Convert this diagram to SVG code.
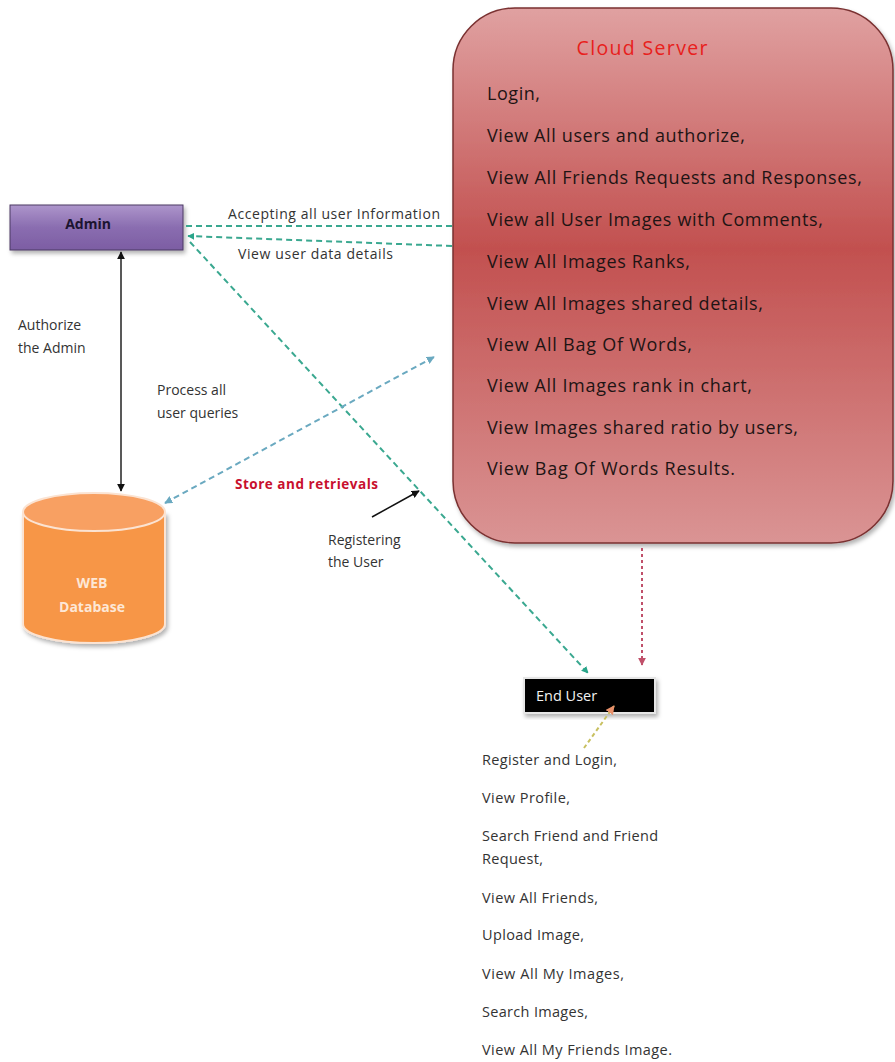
<svg xmlns="http://www.w3.org/2000/svg" width="895" height="1062" viewBox="0 0 895 1062">
<defs>
  <linearGradient id="gCloud" x1="0" y1="0" x2="0" y2="1">
    <stop offset="0" stop-color="#e0a1a1"/>
    <stop offset="0.45" stop-color="#c2504f"/>
    <stop offset="1" stop-color="#da9494"/>
  </linearGradient>
  <linearGradient id="gAdmin" x1="0" y1="0" x2="0" y2="1">
    <stop offset="0" stop-color="#ad95cb"/>
    <stop offset="0.5" stop-color="#8a6db0"/>
    <stop offset="1" stop-color="#7c5da3"/>
  </linearGradient>
  <marker id="aGreen" viewBox="0 0 10 10" refX="9" refY="5" markerWidth="7" markerHeight="7" orient="auto-start-reverse" markerUnits="userSpaceOnUse">
    <path d="M0,0 L10,5 L0,10 z" fill="#2aa58a"/>
  </marker>
  <marker id="aBlue" viewBox="0 0 10 10" refX="9" refY="5" markerWidth="8" markerHeight="8" orient="auto-start-reverse" markerUnits="userSpaceOnUse">
    <path d="M0,0 L10,5 L0,10 z" fill="#6aa9c0"/>
  </marker>
  <marker id="aBlack" viewBox="0 0 10 10" refX="9" refY="5" markerWidth="8" markerHeight="8" orient="auto-start-reverse" markerUnits="userSpaceOnUse">
    <path d="M0,0 L10,5 L0,10 z" fill="#111"/>
  </marker>
  <marker id="aRed" viewBox="0 0 10 10" refX="9" refY="5" markerWidth="8" markerHeight="8" orient="auto" markerUnits="userSpaceOnUse">
    <path d="M0,0 L10,5 L0,10 z" fill="#c0506a"/>
  </marker>
  <marker id="aOrange" viewBox="0 0 10 10" refX="9" refY="5" markerWidth="9" markerHeight="9" orient="auto" markerUnits="userSpaceOnUse">
    <path d="M0,0 L10,5 L0,10 z" fill="#e8906a"/>
  </marker>
  <filter id="sh" x="-10%" y="-10%" width="130%" height="130%">
    <feDropShadow dx="2" dy="3" stdDeviation="2" flood-color="#000" flood-opacity="0.3"/>
  </filter>
</defs>
<style>
  text { font-family: "Open Sans", "Liberation Sans", sans-serif; }
  .cs { font-size: 18px; fill: #1e1414; }
  .lbl { font-size: 14px; fill: #333; }
  .eu { font-size: 14.5px; fill: #333; }
  .gd { fill: none; stroke: #3aa890; stroke-width: 2; stroke-dasharray: 6 4; }
</style>
<rect width="895" height="1062" fill="#ffffff"/>

<g id="cloud-server">
  <rect x="453" y="8" width="440" height="535" rx="62" ry="62" fill="url(#gCloud)" stroke="#7a3030" stroke-width="1.5" filter="url(#sh)"/>
  <text x="642" y="55" text-anchor="middle" font-size="19.5" fill="#e8201c" textLength="131">Cloud Server</text>
  <text class="cs" x="487" y="100" textLength="53">Login,</text>
  <text class="cs" x="487" y="142" textLength="258">View All users and authorize,</text>
  <text class="cs" x="487" y="184" textLength="375">View All Friends Requests and Responses,</text>
  <text class="cs" x="487" y="226" textLength="336">View all User Images with Comments,</text>
  <text class="cs" x="487" y="268" textLength="203">View All Images Ranks,</text>
  <text class="cs" x="487" y="310" textLength="276">View All Images shared details,</text>
  <text class="cs" x="487" y="351" textLength="205">View All Bag Of Words,</text>
  <text class="cs" x="487" y="392" textLength="265">View All Images rank in chart,</text>
  <text class="cs" x="487" y="434" textLength="311">View Images shared ratio by users,</text>
  <text class="cs" x="487" y="475" textLength="248">View Bag Of Words Results.</text>
</g>

<g id="admin">
  <rect x="10" y="205" width="173" height="45" fill="url(#gAdmin)" stroke="#4b3a63" stroke-width="1" filter="url(#sh)"/>
  <text x="88" y="229" text-anchor="middle" font-size="14" font-weight="bold" fill="#1c1430">Admin</text>
</g>

<g id="web-database">
  <path d="M23,512 L23,624 A71,19 0 0 0 165,624 L165,512" fill="#f79646" stroke="#fbe3d2" stroke-width="2" filter="url(#sh)"/>
  <ellipse cx="94" cy="512" rx="71" ry="19" fill="#f8a062" stroke="#fbe3d2" stroke-width="2"/>
  <text x="92" y="588" text-anchor="middle" font-size="14" font-weight="bold" fill="#fde7d6">WEB</text>
  <text x="92" y="612" text-anchor="middle" font-size="14" font-weight="bold" fill="#fde7d6">Database</text>
</g>

<g id="end-user">
  <rect x="524" y="678" width="131" height="35" fill="#000" stroke="#e6e6e6" stroke-width="2" filter="url(#sh)"/>
  <text x="536" y="701" font-size="14.5" fill="#f2f2f2">End User</text>
</g>

<g id="end-user-functions">
  <text class="eu" x="482" y="765" textLength="135">Register and Login,</text>
  <text class="eu" x="482" y="803" textLength="88">View Profile,</text>
  <text class="eu" x="482" y="841" textLength="176">Search Friend and Friend</text>
  <text class="eu" x="482" y="864" textLength="61">Request,</text>
  <text class="eu" x="482" y="903" textLength="116">View All Friends,</text>
  <text class="eu" x="482" y="940" textLength="102">Upload Image,</text>
  <text class="eu" x="482" y="979" textLength="142">View All My Images,</text>
  <text class="eu" x="482" y="1017" textLength="106">Search Images,</text>
  <text class="eu" x="482" y="1055" textLength="190">View All My Friends Image.</text>
</g>

<g id="connectors">
  <line class="gd" x1="452" y1="226" x2="186" y2="226"/>
  <line class="gd" x1="452" y1="246" x2="188" y2="236" marker-end="url(#aGreen)"/>
  <line class="gd" x1="190" y1="242" x2="588" y2="673" marker-end="url(#aGreen)"/>
  <line x1="165" y1="503" x2="434" y2="357" fill="none" stroke="#6aa9c0" stroke-width="2" stroke-dasharray="6 4" marker-start="url(#aBlue)" marker-end="url(#aBlue)"/>
  <line x1="121" y1="252" x2="121" y2="491" stroke="#222" stroke-width="1.5" marker-start="url(#aBlack)" marker-end="url(#aBlack)"/>
  <line x1="372" y1="517" x2="419" y2="491" stroke="#111" stroke-width="1.5" marker-end="url(#aBlack)"/>
  <line x1="642" y1="548" x2="642" y2="665" stroke="#c0506a" stroke-width="2" stroke-dasharray="3 3" marker-end="url(#aRed)"/>
  <line x1="584" y1="748" x2="614" y2="706" stroke="#c8c060" stroke-width="2" stroke-dasharray="4 3" marker-end="url(#aOrange)"/>
</g>

<g id="labels">
  <text class="lbl" x="228" y="219" textLength="212">Accepting all user Information</text>
  <text class="lbl" x="238" y="259" textLength="155">View user data details</text>
  <text class="lbl" x="18" y="330">Authorize</text>
  <text class="lbl" x="18" y="353">the Admin</text>
  <text class="lbl" x="157" y="395">Process all</text>
  <text class="lbl" x="157" y="418">user queries</text>
  <text x="235" y="489" font-size="13.5" font-weight="bold" fill="#c8102e" textLength="143">Store and retrievals</text>
  <text class="lbl" x="328" y="545">Registering</text>
  <text class="lbl" x="328" y="567">the User</text>
</g>
</svg>
